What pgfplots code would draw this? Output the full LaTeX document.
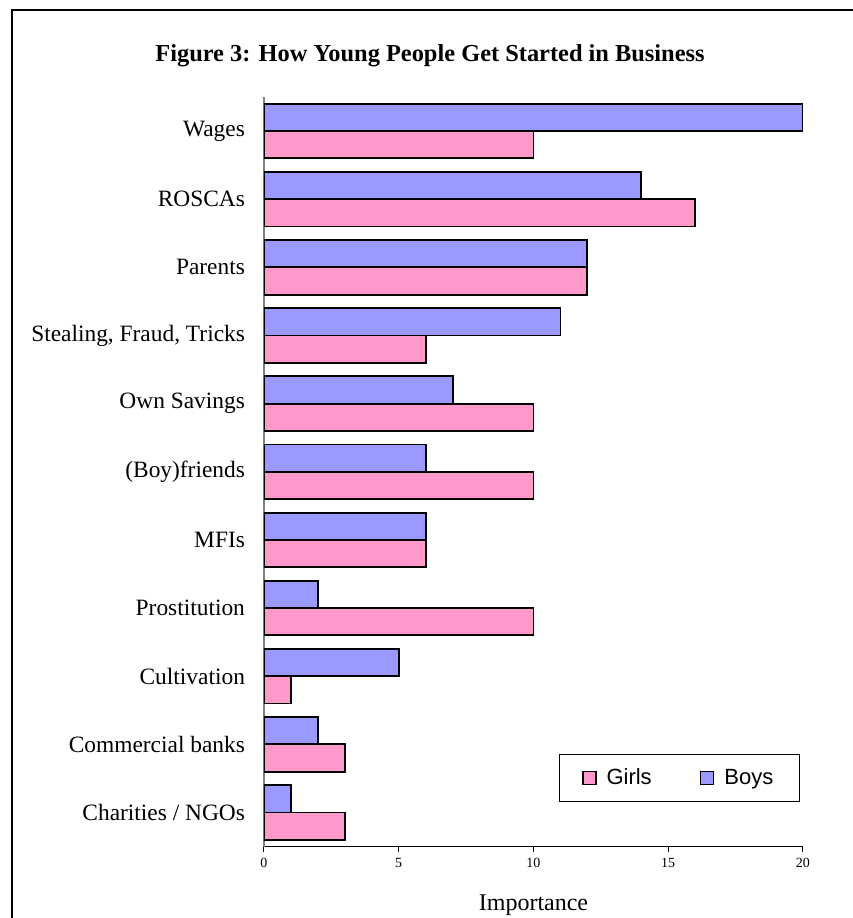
\documentclass[border=0pt]{standalone}
\usepackage{fontspec}
\setmainfont{Liberation Serif}
\newfontfamily\legfont{Liberation Sans}
\usepackage{pgfplots}
\pgfplotsset{compat=1.18}
\definecolor{boys}{HTML}{9999FF}
\definecolor{girls}{HTML}{FF99CC}
\begin{document}
\begin{tikzpicture}
\draw[line width=1.1pt] (5.9pt,-10pt) rectangle (440pt,453.8pt);
\node[anchor=base, font=\bfseries\fontsize{12.2}{14}\selectfont] at (215pt,428pt) {Figure 3: How Young People Get Started in Business};
\begin{axis}[
  at={(132pt,35.7pt)}, anchor=south west,
  scale only axis, width=269.5pt, height=374.8pt,
  xbar, xmin=0, xmax=20, ymin=-0.5, ymax=10.5,
  axis x line*=bottom, axis y line*=left,
  xtick={0,5,10,15,20}, xtick align=outside, major tick length=2.5pt,
  ytick={0,...,10},
  yticklabels={Charities / NGOs, Commercial banks, Cultivation, Prostitution, MFIs, (Boy)friends, Own Savings, {Stealing, Fraud, Tricks}, Parents, ROSCAs, Wages},
  ytick style={draw=none},
  yticklabel style={font=\fontsize{11.7}{13}\selectfont, xshift=-3.5pt},
  xticklabel style={font=\fontsize{7}{8}\selectfont},
  /pgf/number format/assume math mode=true,
  xlabel={Importance}, xlabel style={font=\fontsize{12}{14}\selectfont, yshift=-6.5pt},
  x axis line style={black, line width=0.5pt, -},
  y axis line style={gray, line width=0.8pt, -},
  xtick style={black, line width=0.5pt},
  legend columns=2,
  legend style={at={(0.994,0.0595)}, anchor=south east, draw=black, line width=0.5pt,
    font=\legfont\fontsize{11}{13}\selectfont, inner xsep=11pt, inner ysep=5pt,
    /tikz/every odd column/.append style={column sep=3pt},
    /tikz/every even column/.append style={column sep=22pt}},
  legend image code/.code={\draw[#1,line width=0.8pt] (0pt,-3.25pt) rectangle (6.5pt,3.25pt);},
]
\addplot[fill=girls, draw=black, line width=0.9pt, bar shift=-0.2, bar width=0.4]
  coordinates {(3,0) (3,1) (1,2) (10,3) (6,4) (10,5) (10,6) (6,7) (12,8) (16,9) (10,10)};
\addlegendentry{Girls}
\addplot[fill=boys, draw=black, line width=0.9pt, bar shift=0.2, bar width=0.4]
  coordinates {(1,0) (2,1) (5,2) (2,3) (6,4) (6,5) (7,6) (11,7) (12,8) (14,9) (20,10)};
\addlegendentry{Boys}
\end{axis}
\pgfresetboundingbox
\path[use as bounding box] (0,0) rectangle (426.5pt,459pt);
\end{tikzpicture}
\end{document}
